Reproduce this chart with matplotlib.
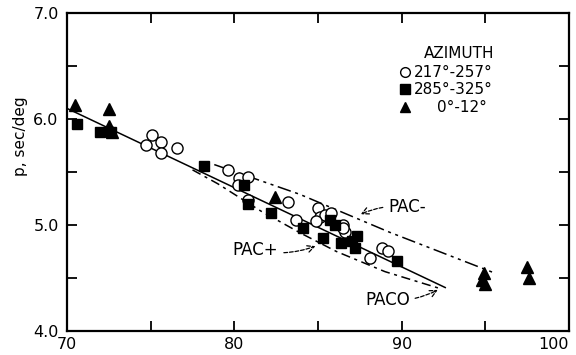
import matplotlib.pyplot as plt
from matplotlib.ticker import MultipleLocator

# distance (deg) vs slowness p (sec/deg), grouped by azimuth
circ_x = [74.7, 75.1, 75.6, 75.6, 76.6, 79.6, 80.3, 80.8, 80.2, 80.8, 83.2, 83.7,
          85.0, 85.1, 85.4, 85.8, 86.5, 86.6, 86.5, 88.1, 88.8, 89.2, 84.9]
circ_y = [5.75, 5.85, 5.78, 5.68, 5.73, 5.52, 5.44, 5.45, 5.38, 5.24, 5.22, 5.05,
          5.16, 5.08, 5.09, 5.11, 5.00, 4.93, 4.97, 4.69, 4.78, 4.75, 5.04]
sq_x = [70.6, 72.0, 72.6, 78.2, 80.6, 80.8, 82.2, 84.1, 85.3, 85.7, 86.0, 86.4,
        87.0, 87.3, 87.2, 89.7]
sq_y = [5.95, 5.88, 5.88, 5.56, 5.38, 5.20, 5.11, 4.97, 4.88, 5.05, 5.00, 4.83,
        4.85, 4.90, 4.78, 4.66]
tri_x = [70.5, 72.5, 72.5, 72.7, 82.4, 94.9, 94.8, 95.0, 97.5, 97.6]
tri_y = [6.13, 6.09, 5.93, 5.88, 5.26, 4.55, 4.48, 4.44, 4.60, 4.50]

# model curves
paco_x = [70.0, 92.6]
paco_y = [6.10, 4.41]
pac_minus_x = [78.8, 83.9, 89.3, 95.5]
pac_minus_y = [5.57, 5.29, 4.93, 4.55]
pac_plus_x = [77.5, 79.0, 81.6, 84.0, 86.1, 89.0, 92.3]
pac_plus_y = [5.52, 5.39, 5.13, 4.92, 4.75, 4.56, 4.40]

x_ticks = [70, 80, 90, 100]

plt.rcParams['font.family'] = 'DejaVu Sans'
fig = plt.figure(figsize=(5.76, 3.55), dpi=100)
ax = fig.add_axes([0.1163, 0.0676, 0.8717, 0.8958])

ax.plot(paco_x, paco_y, color='black', lw=1.1, zorder=2)
ax.plot(pac_minus_x, pac_minus_y, color='black', lw=1.1,
        dashes=(9, 3, 2, 3, 2, 3), zorder=2)
ax.plot(pac_plus_x, pac_plus_y, color='black', lw=1.1,
        dashes=(6, 3, 2, 3), zorder=2)

ax.plot(circ_x, circ_y, 'o', ms=8, mfc='white', mec='black', mew=1.0,
        ls='none', zorder=3)
ax.plot(sq_x, sq_y, 's', ms=7.5, color='black', ls='none', zorder=4)
ax.plot(tri_x, tri_y, '^', ms=8.5, color='black', ls='none', zorder=4)

ax.set_xlim(70, 100)
ax.set_ylim(4.0, 7.0)
ax.set_xticks(x_ticks)
ax.xaxis.set_minor_locator(MultipleLocator(5))
ax.yaxis.set_major_locator(MultipleLocator(1.0))
ax.yaxis.set_minor_locator(MultipleLocator(0.5))
ax.yaxis.set_major_formatter(plt.FormatStrFormatter('%.1f'))
ax.tick_params(which='both', direction='in', top=True, right=True,
               width=1.3, labelsize=11.5)
ax.tick_params(which='major', length=7, pad=4)
ax.tick_params(which='minor', length=7)
ax.tick_params(axis='y', pad=6)
# keep the last x label inside the figure
ax.get_xticklabels()[-1].set_horizontalalignment('right')
for s in ax.spines.values():
    s.set_linewidth(1.6)

fig.text(0.036, 0.615, 'p, sec/deg', rotation=90, ha='center', va='center',
         fontsize=11)

# legend block
ax.text(91.3, 6.62, 'AZIMUTH', fontsize=11, va='center', ha='left')
rows = [('o', 'white', '217\u00b0-257\u00b0', 90.75, 6.44),
        ('s', 'black', '285\u00b0-325\u00b0', 90.75, 6.28),
        ('^', 'black', '0\u00b0-12\u00b0', 92.1, 6.11)]
for mk, fc, lab, tx, ty in rows:
    ax.plot([90.2], [ty], mk, ms=7, mfc=fc, mec='black', mew=1.0,
            clip_on=False)
    ax.text(tx, ty, lab, fontsize=11, va='center', ha='left')

arrow = dict(arrowstyle='->', color='black', lw=0.9, ls=(0, (3, 1.5)),
             connectionstyle='arc3,rad=0.15')
ax.annotate('PAC-', xy=(87.4, 5.09), xytext=(89.2, 5.17), fontsize=12,
            va='center', ha='left', arrowprops=arrow)
ax.annotate('PAC+', xy=(85.0, 4.81), xytext=(79.9, 4.76), fontsize=12,
            va='center', ha='left', arrowprops=arrow)
ax.annotate('PACO', xy=(92.3, 4.40), xytext=(87.8, 4.29), fontsize=12,
            va='center', ha='left', arrowprops=arrow)

fig.savefig('out.png', dpi=100)
